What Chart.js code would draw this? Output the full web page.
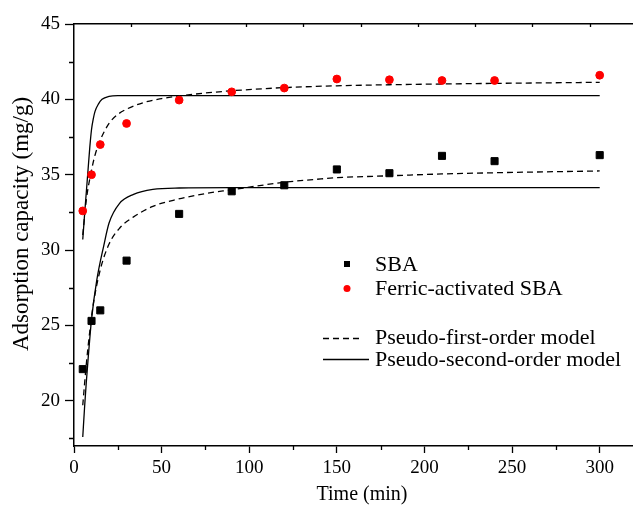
<!DOCTYPE html>
<html>
<head>
<meta charset="utf-8">
<script src="https://cdn.jsdelivr.net/npm/chart.js@4.4.0/dist/chart.umd.min.js"></script>
<style>
	html, body { margin: 0; padding: 0; background: #fff; }
	#wrap { width: 633px; height: 508px; }
</style>
</head>
<body>
<div id="wrap"><canvas id="kineticsChart" width="633" height="508"></canvas></div>
<script>
// measured uptake
const sampleTimes = [5, 10, 15, 30, 60, 90, 120, 150, 180, 210, 240, 300];
const sbaValues = [22.1, 25.3, 26.0, 29.3, 32.4, 33.9, 34.3, 35.35, 35.1, 36.25, 35.9, 36.3];
const ferricValues = [32.6, 35.0, 37.0, 38.4, 39.95, 40.5, 40.75, 41.35, 41.3, 41.25, 41.25, 41.6];

// fitted model curves
const dashedSbaTime = [5, 7, 9, 11, 15, 20, 26, 34, 45, 59, 75, 90, 120, 141, 150, 180, 210, 240, 300];
const dashedSbaValues = [19.7, 22.4, 24.6, 26.4, 28.7, 30.4, 31.45, 32.2, 32.9, 33.37, 33.75, 34.0, 34.5, 34.72, 34.8, 34.93, 35.05, 35.13, 35.25];
const solidSbaTime = [5, 6, 7, 8, 10, 13, 17, 20, 26, 34, 45, 60, 90, 300];
const solidSbaValues = [17.6, 19.5, 21.2, 22.7, 25.4, 28.0, 30.3, 31.8, 33.1, 33.7, 34.03, 34.12, 34.14, 34.14];
const dashedFerricTime = [5, 7, 10, 12, 15, 20, 25, 30, 40, 50, 60, 75, 90, 120, 150, 180, 210, 240, 300];
const dashedFerricValues = [31.0, 33.3, 35.3, 36.3, 37.3, 38.4, 39.0, 39.35, 39.8, 40.05, 40.22, 40.42, 40.57, 40.78, 40.9, 40.97, 41.02, 41.06, 41.13];
const solidFerricTime = [5, 6, 7, 8, 9, 10, 11, 12, 14, 16, 20, 25, 300];
const solidFerricValues = [30.7, 32.3, 33.8, 35.3, 36.8, 38.0, 38.7, 39.2, 39.7, 40.0, 40.2, 40.25, 40.25];

const xTicks = [0, 50, 100, 150, 200, 250, 300];
const xMinorTicks = [25, 75, 125, 175, 225, 275];
const yTicks = [20, 25, 30, 35, 40, 45];
const yMinorTicks = [17.5, 22.5, 27.5, 32.5, 37.5, 42.5];

const xTitle = 'Time (min)';
const yTitle = 'Adsorption capacity (mg/g)';

const serif = '"Liberation Serif", "Times New Roman", serif';
Chart.defaults.font.family = serif;
Chart.defaults.color = '#000';

function toPoints(xs, ys) {
	return xs.map((x, i) => ({ x: x, y: ys[i] }));
}

function curve(label, xs, ys, dash) {
	return {
		type: 'line',
		label: label,
		data: toPoints(xs, ys),
		borderColor: '#000',
		borderWidth: 1.3,
		borderDash: dash,
		pointRadius: 0,
		fill: false,
		cubicInterpolationMode: 'monotone'
	};
}

// no extra padding from the scales, the plot box is fixed
function noPad(s) {
	s.paddingLeft = 0;
	s.paddingRight = 0;
	s.paddingTop = 0;
	s.paddingBottom = 0;
}

// minor ticks, odd spaced ticks on the top frame, axis titles
const tickPlugin = {
	id: 'minorTicks',
	afterDraw(chart) {
		const ctx = chart.ctx;
		const x = chart.scales.x, y = chart.scales.y;
		const area = chart.chartArea;
		ctx.save();
		ctx.strokeStyle = '#000';
		ctx.lineWidth = 1.3;
		ctx.beginPath();
		xMinorTicks.forEach(v => {
			const px = Math.round(x.getPixelForValue(v)) + 0.5;
			ctx.moveTo(px, area.bottom);
			ctx.lineTo(px, area.bottom + 4);
		});
		yMinorTicks.forEach(v => {
			const py = Math.round(y.getPixelForValue(v)) + 0.5;
			ctx.moveTo(area.left, py);
			ctx.lineTo(area.left - 5, py);
		});
		for (let v = 32.7; v < x.max; v += 32.7) {
			const px = Math.round(x.getPixelForValue(v)) + 0.5;
			ctx.moveTo(px, area.top);
			ctx.lineTo(px, area.top + 3);
		}
		ctx.stroke();

		ctx.fillStyle = '#000';
		ctx.textAlign = 'center';
		ctx.textBaseline = 'middle';
		ctx.font = '20px ' + serif;
		ctx.fillText(xTitle, 362, 495);
		ctx.translate(22, 224);
		ctx.rotate(-Math.PI / 2);
		ctx.font = '23px ' + serif;
		ctx.fillText(yTitle, 0, 0);
		ctx.restore();
	}
};

// legend sits inside the plot, drawn by hand
const legendPlugin = {
	id: 'insideLegend',
	afterDraw(chart) {
		const ctx = chart.ctx;
		const ds = chart.data.datasets;
		ctx.save();
		ctx.font = '22px ' + serif;
		ctx.fillStyle = '#000';
		ctx.textBaseline = 'middle';

		// SBA square
		ctx.fillStyle = ds[0].backgroundColor;
		ctx.fillRect(344, 261, 6, 6);
		ctx.fillStyle = '#000';
		ctx.fillText(ds[0].label, 375, 265);

		// ferric circle
		ctx.fillStyle = ds[1].backgroundColor;
		ctx.beginPath();
		ctx.arc(347, 288.5, 3.5, 0, Math.PI * 2);
		ctx.fill();
		ctx.fillStyle = '#000';
		ctx.fillText(ds[1].label, 375, 289);

		ctx.strokeStyle = '#000';
		ctx.lineWidth = 1.3;
		ctx.setLineDash([6, 4]);
		ctx.beginPath();
		ctx.moveTo(323, 338.5);
		ctx.lineTo(361, 338.5);
		ctx.stroke();
		ctx.setLineDash([]);
		ctx.beginPath();
		ctx.moveTo(323, 359.5);
		ctx.lineTo(369, 359.5);
		ctx.stroke();
		ctx.fillText(ds[2].label, 375, 338);
		ctx.fillText(ds[3].label, 375, 360);
		ctx.restore();
	}
};

const ctx = document.getElementById('kineticsChart');

const chart = new Chart(ctx, {
	type: 'scatter',
	data: {
		datasets: [
			{
				label: 'SBA',
				data: toPoints(sampleTimes, sbaValues),
				pointStyle: 'rect',
				pointRadius: 5,
				borderWidth: 1,
				backgroundColor: '#000',
				borderColor: '#000'
			},
			{
				label: 'Ferric-activated SBA',
				data: toPoints(sampleTimes, ferricValues),
				pointStyle: 'circle',
				pointRadius: 3.9,
				borderWidth: 1,
				backgroundColor: '#ff0000',
				borderColor: '#ff0000'
			},
			curve('Pseudo-first-order model', dashedSbaTime, dashedSbaValues, [6, 4]),
			curve('Pseudo-second-order model', solidSbaTime, solidSbaValues, []),
			curve('Pseudo-first-order model', dashedFerricTime, dashedFerricValues, [6, 4]),
			curve('Pseudo-second-order model', solidFerricTime, solidFerricValues, [])
		]
	},
	options: {
		responsive: false,
		animation: false,
		devicePixelRatio: 1,
		// the plot box runs off the right edge like in the figure
		layout: { padding: 0, autoPadding: false },
		plugins: {
			legend: { display: false },
			tooltip: { enabled: false }
		},
		scales: {
			x: {
				type: 'linear',
				position: 'bottom',
				min: 0,
				max: 319,
				afterBuildTicks: s => { s.ticks = xTicks.map(v => ({ value: v })); },
				afterFit: s => { s.height = 62; noPad(s); },
				border: { color: '#000', width: 1.5 },
				grid: { drawOnChartArea: false, tickLength: 7, color: '#000', tickWidth: 1.3 },
				ticks: { color: '#000', padding: 4, maxRotation: 0, font: { family: serif, size: 19 } }
			},
			x2: {
				type: 'linear',
				position: 'top',
				min: 0,
				max: 1,
				afterFit: s => { s.height = 24; noPad(s); },
				border: { color: '#000', width: 1.5 },
				grid: { display: false },
				ticks: { display: false }
			},
			y: {
				type: 'linear',
				min: 17,
				max: 45,
				afterBuildTicks: s => { s.ticks = yTicks.map(v => ({ value: v })); },
				afterFit: s => { s.width = 74; noPad(s); },
				border: { color: '#000', width: 1.5 },
				grid: { drawOnChartArea: false, tickLength: 9, color: '#000', tickWidth: 1.3 },
				ticks: { color: '#000', padding: 5, font: { family: serif, size: 19 } }
			}
		}
	},
	plugins: [tickPlugin, legendPlugin]
});
</script>
</body>
</html>
